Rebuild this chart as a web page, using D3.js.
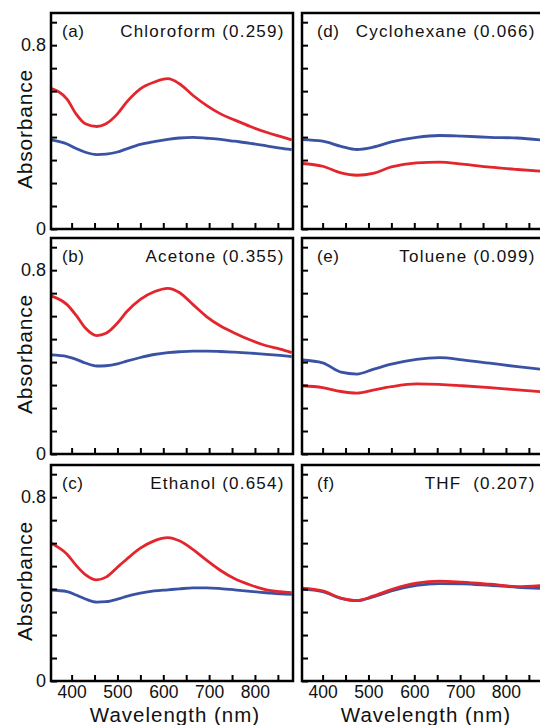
<!DOCTYPE html>
<html><head><meta charset="utf-8">
<script src="https://cdn.jsdelivr.net/npm/d3@7"></script>
<style>
html,body{margin:0;padding:0;background:#fff;}
svg{display:block;font-family:"Liberation Sans",Arial,sans-serif;}
</style></head>
<body><svg id="c" width="540" height="725"></svg>
<script>
// ---- data ----
const nmLeft  = [355,390,410,430,455,475,500,520,550,580,610,635,665,695,725,755,790,825,855,880];
const nmRight = [355,400,440,475,510,550,605,655,705,765,825,880];

const chloroformRed  = [0.612,0.565,0.500,0.458,0.446,0.458,0.501,0.552,0.610,0.639,0.654,0.632,0.581,0.537,0.501,0.475,0.446,0.421,0.403,0.388];
const chloroformBlue = [0.388,0.370,0.350,0.334,0.324,0.326,0.335,0.349,0.368,0.380,0.390,0.396,0.399,0.395,0.390,0.382,0.373,0.362,0.352,0.345];
const acetoneRed     = [0.688,0.650,0.603,0.548,0.515,0.525,0.570,0.619,0.673,0.706,0.721,0.703,0.650,0.597,0.557,0.527,0.496,0.471,0.456,0.441];
const acetoneBlue    = [0.431,0.424,0.412,0.396,0.383,0.384,0.392,0.404,0.420,0.433,0.441,0.445,0.448,0.448,0.446,0.443,0.439,0.434,0.429,0.424];
const ethanolRed     = [0.600,0.552,0.503,0.463,0.440,0.452,0.495,0.530,0.578,0.610,0.624,0.610,0.572,0.525,0.481,0.446,0.418,0.397,0.389,0.384];
const ethanolBlue    = [0.396,0.389,0.374,0.357,0.343,0.345,0.356,0.368,0.382,0.392,0.397,0.401,0.405,0.405,0.402,0.397,0.390,0.384,0.379,0.377];

const cyclohexaneBlue = [0.389,0.382,0.360,0.346,0.356,0.379,0.399,0.407,0.404,0.399,0.396,0.387];
const cyclohexaneRed  = [0.285,0.273,0.244,0.234,0.242,0.270,0.288,0.291,0.282,0.269,0.259,0.251];
const tolueneBlue     = [0.409,0.397,0.356,0.348,0.368,0.391,0.412,0.419,0.410,0.395,0.380,0.368];
const tolueneRed      = [0.297,0.289,0.272,0.265,0.278,0.293,0.305,0.303,0.297,0.289,0.279,0.271];
const thfBlue         = [0.400,0.389,0.360,0.350,0.366,0.392,0.416,0.424,0.423,0.416,0.408,0.403];
const thfRed          = [0.404,0.392,0.361,0.350,0.369,0.398,0.426,0.435,0.430,0.421,0.411,0.416];

const panelLetters = ["(a)","(b)","(c)","(d)","(e)","(f)"];
const solventNames = ["Chloroform (0.259)","Acetone (0.355)","Ethanol (0.654)","Cyclohexane (0.066)","Toluene (0.099)","THF\u00a0 (0.207)"];
const yTicks = [0,0.1,0.2,0.3,0.4,0.5,0.6,0.7,0.8,0.9];
const yTickLabels = {0:"0",0.8:"0.8"};
const xTicks = [400,450,500,550,600,650,700,750,800,850];
const xTickLabels = [400,500,600,700,800];
const xTitle = "Wavelength (nm)";
const yTitle = "Absorbance";

// ---- layout ----
const colX = [51, 302], panelW = 242;
const rowY = [13, 238, 465], panelH = 216;
const RED = "#e3262d", BLUE = "#3a52a3";

const panels = [
  {col:0,row:0,nm:nmLeft, red:chloroformRed, blue:chloroformBlue},
  {col:0,row:1,nm:nmLeft, red:acetoneRed, blue:acetoneBlue},
  {col:0,row:2,nm:nmLeft, red:ethanolRed, blue:ethanolBlue},
  {col:1,row:0,nm:nmRight,red:cyclohexaneRed, blue:cyclohexaneBlue, blueOnTop:true},
  {col:1,row:1,nm:nmRight,red:tolueneRed, blue:tolueneBlue, blueOnTop:true},
  {col:1,row:2,nm:nmRight,red:thfRed, blue:thfBlue}
];

const svg = d3.select("#c");
const x = d3.scaleLinear().domain([355, 883]).range([0, panelW]);
const y = d3.scaleLinear().domain([0, 0.94]).range([panelH, 0]);

panels.forEach((p, i) => {
  const g = svg.append("g").attr("transform", `translate(${colX[p.col]},${rowY[p.row]})`);
  const cid = "clip" + i;
  g.append("clipPath").attr("id", cid).append("rect").attr("width", panelW).attr("height", panelH);

  const line = d3.line().x(d => x(d[0])).y(d => y(d[1])).curve(d3.curveMonotoneX);
  const lg = g.append("g").attr("clip-path", `url(#${cid})`);
  const series = p.blueOnTop ? [[p.red, RED], [p.blue, BLUE]] : [[p.blue, BLUE], [p.red, RED]];
  series.forEach(([vals, col]) => {
    lg.append("path").datum(p.nm.map((n, k) => [n, vals[k]]))
      .attr("d", line).attr("fill", "none").attr("stroke", col)
      .attr("stroke-width", 2.8).attr("stroke-linejoin", "round");
  });

  // y axis (inward ticks)
  const ya = d3.axisLeft(y).tickValues(yTicks).tickSize(-6).tickPadding(5)
    .tickFormat(d => p.col === 0 ? (yTickLabels[Math.round(d*10)/10] || "") : "");
  const yg = g.append("g").call(ya);
  yg.select(".domain").remove();
  yg.selectAll(".tick line").attr("stroke", "#000").attr("stroke-width", 2);
  yg.selectAll(".tick text").attr("font-size", 18).attr("fill", "#111").attr("font-family", "Liberation Sans, Arial, sans-serif");
  yg.selectAll(".tick text").filter(function(){ return !this.textContent; }).remove();

  // x axis (inward ticks)
  const xa = d3.axisBottom(x).tickValues(xTicks).tickSize(-6).tickPadding(5)
    .tickFormat(d => (p.row === 2 && xTickLabels.includes(d)) ? d : "");
  const xg = g.append("g").attr("transform", `translate(0,${panelH})`).call(xa);
  xg.select(".domain").remove();
  xg.selectAll(".tick line").attr("stroke", "#000").attr("stroke-width", 2);
  xg.selectAll(".tick text").attr("font-size", 17.5).attr("fill", "#111").attr("font-family", "Liberation Sans, Arial, sans-serif");
  xg.selectAll(".tick text").filter(function(){ return !this.textContent; }).remove();

  // frame
  g.append("rect").attr("width", panelW).attr("height", panelH)
    .attr("fill", "none").attr("stroke", "#000").attr("stroke-width", 2.5);

  // labels
  g.append("text").attr("x", p.col === 0 ? 11 : 15).attr("y", 24)
    .attr("font-size", 17).attr("letter-spacing", 0.6).attr("fill", "#111").text(panelLetters[i]);
  g.append("text").attr("x", panelW - 8.5).attr("y", 24).attr("text-anchor", "end")
    .attr("font-size", 17).attr("letter-spacing", 1.2).attr("fill", "#111")
    .style("white-space", "pre").text(solventNames[i]);

  if (p.col === 0) {
    g.append("text").attr("transform", `translate(${32 - colX[0]},116) rotate(-90)`)
      .attr("text-anchor", "middle").attr("font-size", 21).attr("letter-spacing", 0.8)
      .attr("fill", "#111").text(yTitle);
  }
  if (p.row === 2) {
    g.append("text").attr("x", panelW / 2 + 3).attr("y", 722 - rowY[2])
      .attr("text-anchor", "middle").attr("font-size", 20.5).attr("letter-spacing", 1)
      .attr("fill", "#111").text(xTitle);
  }
});
</script></body></html>
